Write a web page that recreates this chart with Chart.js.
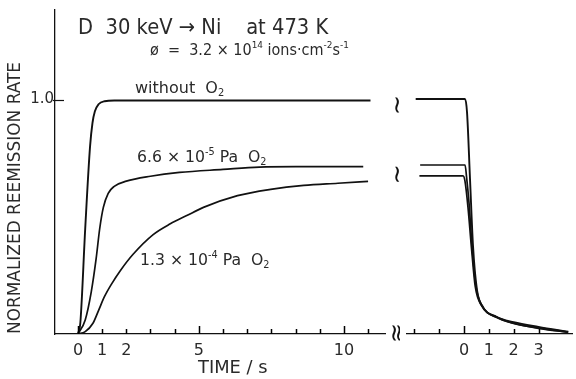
<!DOCTYPE html>
<html lang="en">
<head>
<meta charset="UTF-8" />
<title>Normalized reemission rate</title>
<script src="https://cdn.jsdelivr.net/npm/chart.js"></script>
<style>
  body { margin: 0; background: #fff; }
  .wrap { position: relative; width: 576px; height: 379px; overflow: hidden; background: #fff; }
  #leftChart { position: absolute; left: 0; top: 0; }
  #rightChart { position: absolute; left: 390px; top: 0; }
</style>
</head>
<body>
<div class="wrap">
  <canvas id="leftChart" width="400" height="379"></canvas>
  <canvas id="rightChart" width="186" height="379"></canvas>
</div>
<script>
  // ---- data ----
  // left panel: beam on (time in tick units of the original axis)
  const tWithout = [0, 0.1, 0.3, 0.5, 0.6, 0.7, 0.85, 1.1, 1.5, 12.1];
  const rWithout = [0, 0.05, 0.45, 0.8, 0.9, 0.95, 0.98, 0.993, 0.996, 0.996];

  const t66 = [0, 0.3, 0.55, 0.75, 0.9, 1.05, 1.25, 1.5, 2.0, 3.0, 4.2, 6.0, 7.5, 9.0, 11.8];
  const r66 = [0, 0.06, 0.18, 0.32, 0.45, 0.54, 0.6, 0.63, 0.652, 0.673, 0.689, 0.702, 0.712, 0.714, 0.714];

  const t13 = [0, 0.3, 0.62, 0.85, 1.1, 1.4, 1.75, 2.28, 3.11, 3.82, 4.5, 5.19, 6.6, 7.97, 9.34, 10.75, 12.0];
  const r13 = [0, 0.01, 0.046, 0.1, 0.16, 0.215, 0.27, 0.34, 0.424, 0.47, 0.505, 0.54, 0.59, 0.617, 0.634, 0.643, 0.651];

  // right panel: beam off
  const tOffWithout = [-1.95, 0.04, 0.12, 0.24, 0.36, 0.52, 0.76, 1.32, 1.96, 3.05, 4.17];
  const rOffWithout = [0.987, 0.987, 0.93, 0.65, 0.37, 0.185, 0.113, 0.071, 0.046, 0.025, 0.008];

  const tOff66 = [-1.77, 0.04, 0.1, 0.2, 0.32, 0.48, 0.72, 1.3, 2.0, 3.0, 4.2];
  const rOff66 = [0.71, 0.71, 0.66, 0.55, 0.37, 0.2, 0.12, 0.073, 0.05, 0.03, 0.01];

  const tOff13 = [-1.8, -0.04, 0.04, 0.16, 0.3, 0.45, 0.7, 1.3, 2.0, 3.0, 4.2];
  const rOff13 = [0.664, 0.664, 0.64, 0.53, 0.36, 0.2, 0.12, 0.07, 0.045, 0.024, 0.008];

  // ticks and labels
  const leftTicks = [0, 1, 2, 3, 4, 5, 6, 7, 8, 9, 10, 11, 12];
  const leftLongTicks = [0, 5, 11];
  const leftLabelValues = [0, 1, 2, 5, 11];
  const leftLabelTexts = ["0", "1", "2", "5", "10"];
  const rightTicks = [-2, -1, 0, 1, 2, 3];
  const rightLongTicks = [0];
  const rightLabelValues = [0, 1, 2, 3];
  const rightLabelTexts = ["0", "1", "2", "3"];
  const yLabelValues = [1];
  const yLabelTexts = ["1.0"];
  const breakLevels = [0.985, 0.69];

  const INK = "#111";
  const TEXT = "#2a2a2a";
  const FONT = '"DejaVu Sans", sans-serif';

  function curve(xs, ys) {
    return xs.map((x, i) => ({ x: x, y: ys[i] }));
  }

  function line(xs, ys, w) {
    return {
      data: curve(xs, ys),
      borderColor: INK,
      borderWidth: w || 1.7,
      pointRadius: 0,
      fill: false,
      cubicInterpolationMode: "monotone",
    };
  }

  // text with super/subscripts, squeezed horizontally by sx
  function richText(ctx, parts, x, y, size, sx) {
    ctx.save();
    ctx.translate(x, y);
    ctx.scale(sx || 1, 1);
    ctx.fillStyle = TEXT;
    ctx.textAlign = "left";
    ctx.textBaseline = "alphabetic";
    let cx = 0;
    for (const [txt, kind] of parts) {
      const fs = kind ? size * 0.62 : size;
      const dy = kind === "sup" ? -size * 0.45 : kind === "sub" ? size * 0.2 : 0;
      ctx.font = fs + "px " + FONT;
      ctx.fillText(txt, cx, dy);
      cx += ctx.measureText(txt).width;
    }
    ctx.restore();
  }

  // short inward tick marks on the time axis
  function tickMarks(chart, values, longValues) {
    const ctx = chart.ctx;
    const xs = chart.scales.x;
    const base = Math.round(xs.top);
    ctx.save();
    ctx.strokeStyle = "#000";
    ctx.lineWidth = 1.5;
    ctx.beginPath();
    values.forEach((v) => {
      const px = Math.round(xs.getPixelForValue(v)) + 0.5;
      const len = longValues.includes(v) ? 8 : 5;
      ctx.moveTo(px, base);
      ctx.lineTo(px, base - len);
    });
    ctx.stroke();
    ctx.restore();
  }

  function breakMark(ctx, x, y) {
    ctx.save();
    ctx.translate(x, y);
    ctx.rotate(Math.PI / 2);
    ctx.fillStyle = INK;
    ctx.font = "24px " + FONT;
    ctx.textAlign = "center";
    ctx.textBaseline = "middle";
    ctx.fillText("\u2248", 0, 0);
    ctx.restore();
  }

  const leftDecor = {
    id: "leftDecor",
    afterDraw(chart) {
      const ctx = chart.ctx;
      const area = chart.chartArea;
      const ys = chart.scales.y;
      tickMarks(chart, leftTicks, leftLongTicks);

      // inward tick at 1.0
      ctx.save();
      ctx.strokeStyle = INK;
      ctx.lineWidth = 1.2;
      yLabelValues.forEach((v) => {
        const py = Math.round(ys.getPixelForValue(v)) + 0.5;
        ctx.beginPath();
        ctx.moveTo(area.left - 2, py);
        ctx.lineTo(area.left + 9, py);
        ctx.stroke();
      });
      ctx.restore();

      // axis breaks
      breakMark(ctx, area.right + 10, area.bottom - 1);
      breakLevels.forEach((v) => breakMark(ctx, area.right + 13, ys.getPixelForValue(v) + 2));

      // y title
      ctx.save();
      ctx.translate(16, 198);
      ctx.rotate(-Math.PI / 2);
      ctx.font = "17px " + FONT;
      const yt = "NORMALIZED REEMISSION RATE";
      const sy = 272 / ctx.measureText(yt).width;
      ctx.scale(sy, 1);
      ctx.fillStyle = TEXT;
      ctx.textAlign = "center";
      ctx.textBaseline = "middle";
      ctx.fillText(yt, 0, 0);
      ctx.restore();

      // x title
      richText(ctx, [["TIME / s", ""]], 198, 373, 17, 1.05);

      // header
      richText(ctx, [["D  30 keV \u2192 Ni    at 473 K", ""]], 78, 34, 21, 0.93);
      richText(ctx, [["\u00f8  =  3.2 \u00d7 10", ""], ["14", "sup"], [" ions\u00b7cm", ""], ["-2", "sup"], ["s", ""], ["-1", "sup"]], 150, 55, 15, 0.96);

      // curve labels
      richText(ctx, [["without  O", ""], ["2", "sub"]], 135, 93, 16, 1.0);
      richText(ctx, [["6.6 \u00d7 10", ""], ["-5", "sup"], [" Pa  O", ""], ["2", "sub"]], 137, 162, 16, 0.98);
      richText(ctx, [["1.3 \u00d7 10", ""], ["-4", "sup"], [" Pa  O", ""], ["2", "sub"]], 140, 265, 16, 0.98);
    },
  };

  const rightDecor = {
    id: "rightDecor",
    afterDraw(chart) {
      tickMarks(chart, rightTicks, rightLongTicks);
    },
  };

  function xAxis(min, max, labelValues, labelTexts) {
    return {
      type: "linear",
      min: min,
      max: max,
      grid: { display: false, drawTicks: false },
      border: { display: true, color: INK, width: 1.3 },
      afterBuildTicks: (s) => {
        s.ticks = labelValues.map((v) => ({ value: v }));
      },
      afterFit: (s) => {
        s.height = 45;
      },
      ticks: {
        color: TEXT,
        font: { family: FONT, size: 16 },
        padding: 7,
        maxRotation: 0,
        autoSkip: false,
        callback: (v) => {
          const i = labelValues.indexOf(v);
          return i < 0 ? "" : labelTexts[i];
        },
      },
    };
  }

  const commonPlugins = {
    legend: { display: false },
    tooltip: { enabled: false },
  };

  new Chart(document.getElementById("leftChart"), {
    type: "line",
    data: {
      datasets: [
        line(tWithout, rWithout, 1.9),
        line(t66, r66),
        line(t13, r13),
      ],
    },
    options: {
      responsive: false,
      animation: false,
      devicePixelRatio: 1,
      layout: { padding: { top: 5, right: 15, left: 0, bottom: 0 } },
      plugins: commonPlugins,
      scales: {
        x: xAxis(-0.95, 12.7, leftLabelValues, leftLabelTexts),
        y: {
          type: "linear",
          min: 0,
          max: 1.382,
          grid: { display: false, drawTicks: false },
          border: { display: true, color: INK, width: 1.3 },
          afterBuildTicks: (s) => {
            s.ticks = yLabelValues.map((v) => ({ value: v }));
          },
          afterFit: (s) => {
            s.width = 55;
          },
          ticks: {
            color: TEXT,
            font: { family: FONT, size: 15 },
            padding: 1,
            callback: (v) => {
              const i = yLabelValues.indexOf(v);
              return i < 0 ? "" : yLabelTexts[i];
            },
          },
        },
      },
    },
    plugins: [leftDecor],
  });

  new Chart(document.getElementById("rightChart"), {
    type: "line",
    data: {
      datasets: [
        line(tOffWithout, rOffWithout, 1.9),
        line(tOff66, rOff66),
        line(tOff13, rOff13),
      ],
    },
    options: {
      responsive: false,
      animation: false,
      devicePixelRatio: 1,
      layout: { padding: { top: 5, right: 4, left: 17, bottom: 0 } },
      plugins: commonPlugins,
      scales: {
        x: xAxis(-2.3, 4.35, rightLabelValues, rightLabelTexts),
        y: { type: "linear", min: 0, max: 1.382, display: false },
      },
    },
    plugins: [rightDecor],
  });
</script>
</body>
</html>
